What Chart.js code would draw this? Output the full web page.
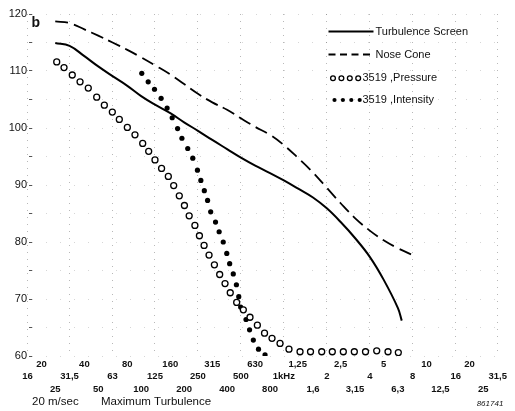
<!DOCTYPE html>
<html><head><meta charset="utf-8">
<script src="https://cdn.jsdelivr.net/npm/chart.js@4/dist/chart.umd.min.js"></script>
<style>html,body{margin:0;padding:0;background:#fff}#wrap{width:515px;height:411px;position:relative}</style>
</head><body><div id="wrap"><canvas id="c"></canvas></div>
<script>
// Third-octave band frequencies (Hz) and their printed labels
const bandFreqs = [16,20,25,31.5,40,50,63,80,100,125,160,200,250,315,400,500,630,800,1000,1250,1600,2000,2500,3150,4000,5000,6300,8000,10000,12500,16000,20000,25000,31500];
const bandLabels = ['16','20','25','31,5','40','50','63','80','100','125','160','200','250','315','400','500','630','800','1kHz','1,25','1,6','2','2,5','3,15','4','5','6,3','8','10','12,5','16','20','25','31,5'];

// Turbulence Screen (solid)
const screenFreq  = [25,31.5,40,50,63,80,100,125,160,200,250,315,400,500,630,800,1000,1250,1600,2000,2500,3150,4000,5000,6300,6700];
const screenLevel = [114.9,114.4,112.6,110.8,109.1,107.4,105.6,104.1,102.6,101.0,99.5,97.9,96.3,94.8,93.4,92.1,90.8,89.4,87.8,85.9,83.5,80.7,77.4,73.4,68.4,66.2];

// Nose Cone (dashed)
const noseFreq  = [25,31.5,40,50,63,80,100,125,160,200,250,315,400,500,630,800,1000,1250,1600,2000,2500,3150,4000,5000,6300,8000];
const noseLevel = [118.7,118.4,117.3,116.2,115.0,113.7,112.4,111.0,109.4,107.7,106.0,104.5,103.2,101.7,100.2,98.8,97.0,94.8,92.2,89.5,86.8,84.2,82.0,80.3,78.9,77.7];

// 3519 ,Pressure (open circles)
const pressureFreq  = [25.6,28.8,32.9,37.3,42.6,48.8,55.2,62.8,70.3,80.0,90.5,102.5,112.9,125,139,155,169,185,201,217,238,256,276,299,326,355,387,421,467,520,579,652,732,826,940,1086,1298,1537,1842,2185,2610,3117,3734,4473,5368,6339];
const pressureLevel = [111.6,110.6,109.3,108.1,107.0,105.4,104.0,102.8,101.5,100.1,98.8,97.3,95.9,94.4,92.9,91.5,89.9,88.1,86.4,84.6,82.9,81.1,79.4,77.7,76.0,74.3,72.7,71.1,69.4,68.1,66.8,65.4,64.0,63.1,62.2,61.2,60.75,60.75,60.75,60.75,60.75,60.75,60.75,60.9,60.75,60.6];

// 3519 ,Intensity (filled dots)
const intensityFreq  = [101,112,124,138,152,165,180,193,212,230,248,262,277,292,307,332,352,376,398,417,442,465,483,498,543,575,611,664,738];
const intensityLevel = [109.6,108.1,106.8,105.2,103.5,101.8,99.9,98.2,96.4,94.7,92.6,90.8,89.0,87.3,85.3,83.5,81.8,80.0,78.0,76.2,74.4,72.5,70.4,68.6,66.4,64.6,62.8,61.2,60.2];

const seriesNames = ['Turbulence Screen','Nose Cone','3519 ,Pressure','3519 ,Intensity'];

const FONT = "'Liberation Sans', Arial, Helvetica, sans-serif";
const pts = (xs, ys) => xs.map((x, i) => ({x, y: ys[i]}));

const annotPlugin = {
  id: 'annot',
  afterDraw(chart, args, o) {
    const ctx = chart.ctx;
    ctx.save();
    ctx.fillStyle = '#111';
    ctx.strokeStyle = '#000';
    ctx.textBaseline = 'middle';
    chart.data.datasets.forEach((ds, i) => {
      const y = o.rowY[i];
      if (ds.showLine !== false) {
        ctx.beginPath();
        ctx.lineWidth = ds.borderWidth;
        ctx.setLineDash(ds.borderDash ? o.legendDash : []);
        ctx.moveTo(o.sampleX0, y);
        ctx.lineTo(o.sampleX1, y);
        ctx.stroke();
        ctx.setLineDash([]);
      } else {
        for (let k = 0; k < 4; k++) {
          const x = o.markX0[i] + k * o.markStep;
          ctx.beginPath();
          ctx.arc(x, y, ds.pointRadius * o.markScale, 0, Math.PI * 2);
          ctx.fillStyle = ds.pointBackgroundColor;
          ctx.fill();
          if (ds.pointBorderWidth) { ctx.lineWidth = ds.pointBorderWidth; ctx.strokeStyle = ds.pointBorderColor; ctx.stroke(); }
        }
      }
      ctx.fillStyle = '#111';
      ctx.font = '11px ' + FONT;
      ctx.textAlign = 'left';
      ctx.fillText(ds.label, o.textX[i], y);
    });
    ctx.font = 'bold 14px ' + FONT;
    ctx.textAlign = 'left';
    ctx.fillText('b', 31.5, 23.5);
    ctx.font = 'italic 8px ' + FONT;
    ctx.textAlign = 'center';
    ctx.fillText('861741', 490, 403.5);
    ctx.restore();
  }
};

new Chart(document.getElementById('c'), {
  type: 'line',
  data: {
    datasets: [
      {label: seriesNames[0], data: pts(screenFreq, screenLevel), borderColor: '#000', borderWidth: 2, pointRadius: 0, fill: false, tension: 0.4},
      {label: seriesNames[1], data: pts(noseFreq, noseLevel), borderColor: '#000', borderWidth: 1.8, borderDash: [13, 6], pointRadius: 0, fill: false, tension: 0.4},
      {label: seriesNames[2], data: pts(pressureFreq, pressureLevel), showLine: false, pointRadius: 3, pointBorderWidth: 1.3, pointBackgroundColor: '#fff', pointBorderColor: '#000'},
      {label: seriesNames[3], data: pts(intensityFreq, intensityLevel), showLine: false, pointRadius: 2.6, pointBorderWidth: 0, pointBackgroundColor: '#000', pointBorderColor: '#000'}
    ]
  },
  options: {
    responsive: true,
    maintainAspectRatio: false,
    animation: false,
    devicePixelRatio: 1,
    layout: {padding: {top: 14, right: 10, bottom: 0, left: 0}},
    plugins: {
      legend: {display: false},
      tooltip: {enabled: false},
      annot: {
        rowY: [31.5, 54.5, 78.3, 100],
        sampleX0: 328.5, sampleX1: 373.5,
        legendDash: [7, 4.5],
        markX0: [0, 0, 333, 334.5], markStep: 8.4, markScale: 0.8,
        textX: [375.5, 375.5, 362.5, 362.5]
      }
    },
    scales: {
      x: {
        type: 'logarithmic',
        min: 17.18, max: 35450,
        bounds: 'data',
        afterBuildTicks: s => { s.ticks = bandFreqs.map(v => ({value: v})); },
        afterFit: s => { s.height = 55; },
        ticks: {
          autoSkip: false, maxRotation: 0, minRotation: 0, padding: 2, color: '#111',
          font: {family: FONT, size: 9.5, weight: 'bold', lineHeight: 1.3},
          callback: (v, i) => {
            const row = [2, 1, 3][i % 3];
            const out = [];
            for (let k = 1; k < row; k++) out.push('');
            out.push(bandLabels[i]);
            return out;
          }
        },
        grid: {drawTicks: false, lineWidth: 1, color: c => (c.index % 3 === 0 ? 'rgba(0,0,0,0.28)' : 'rgba(0,0,0,0)')},
        border: {display: false, dash: [1, 6]},
        title: {display: true, text: '20 m/sec       Maximum Turbulence', align: 'start', color: '#111',
          font: {family: FONT, size: 11.5}, padding: {top: 0, bottom: 2.5}}
      },
      y: {
        min: 60, max: 120,
        afterFit: s => { s.width = 32; },
        ticks: {stepSize: 5, padding: 2, color: '#111', font: {family: FONT, size: 11},
          callback: v => (v % 10 === 0 ? String(v) : '')},
        grid: {drawTicks: true, tickLength: 3, tickColor: '#555', color: 'rgba(0,0,0,0.16)', lineWidth: 1},
        border: {display: false, dash: [1, 13]}
      }
    }
  },
  plugins: [annotPlugin]
});
</script>
</body></html>
